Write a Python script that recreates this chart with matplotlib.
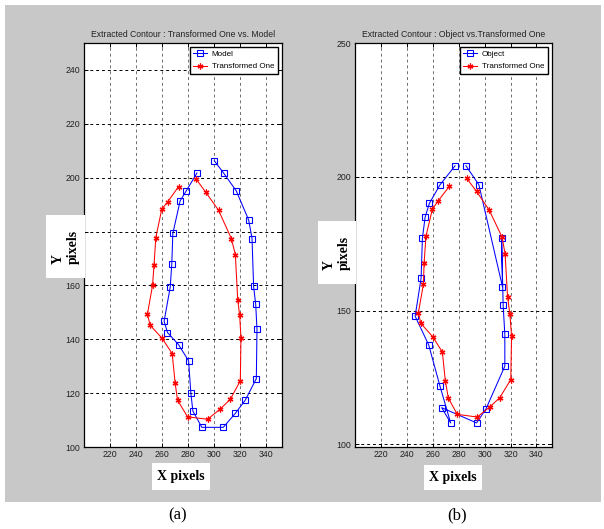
import matplotlib
matplotlib.use('Agg')
import matplotlib.pyplot as plt
from matplotlib.patches import Rectangle

# (a) model contour and the transformed one
model_x = [300, 307.2, 316.9, 326.4, 329, 330.2, 331.8, 332.8, 332.3, 323.8, 316.2, 306.9, 290.5,
           283.6, 282, 280.3, 272.6, 264.1, 261.5, 266.2, 267.4, 268.2, 273.8, 278.5, 286.7]
model_y = [206.3, 201.7, 195.1, 184.3, 177.4, 159.6, 153, 143.7, 125.4, 117.4, 112.5, 107.3, 107.3,
           113.3, 120.1, 132, 138, 142.5, 146.7, 159.4, 168, 179.3, 191.4, 195.1, 201.7]

trans_x = [286.2, 293.3, 303.3, 313.1, 316.2, 318, 319.5, 320.5, 320, 312.3, 304.6, 294.9, 279.5,
           271.8, 270, 267.7, 259.7, 250.8, 248.7, 252.6, 253.8, 255.1, 259.7, 264.4, 272.6]
trans_y = [199.4, 194.7, 187.9, 177.4, 171.4, 154.7, 148.9, 140.6, 124.6, 117.7, 114.1, 110.3, 111.2,
           117.4, 123.6, 134.7, 140.5, 145.2, 149.3, 160, 167.7, 177.7, 188.3, 191.1, 196.7]

# (b) object contour and the transformed one
obj_x = [285.6, 295.6, 313.8, 313.1, 314.3, 315.6, 315.6, 301, 293.8, 266.9,
         273.8, 265.6, 256.9, 246.4, 251, 252, 254.1, 257.4, 265.6, 277.2]
obj_y = [204.1, 197, 158.9, 177, 152.1, 141.1, 129.2, 113.2, 108, 113.7,
         108, 121.7, 137.1, 147.9, 162.1, 177, 184.9, 190.1, 197, 204.1]

trans2_x = [286.2, 293.8, 303.5, 313.5, 315.8, 317.7, 319.5, 320.8, 320.2, 311.8, 304.1, 294.3, 278.9,
            272, 269.7, 267.4, 260, 250.8, 248.9, 252.8, 253.3, 254.8, 259.7, 264.3, 272.8]
trans2_y = [199.4, 194.5, 187.6, 177.4, 171.2, 155.2, 148.7, 140.4, 124.2, 117.5, 114, 110.2, 111.2,
            117.3, 123.7, 134.5, 140.2, 145.2, 149.2, 159.9, 167.7, 177.9, 187.9, 191.1, 196.4]

x_ticks = [220, 240, 260, 280, 300, 320, 340]
y_ticks_a = [100, 120, 140, 160, 180, 200, 220, 240]
y_labels_a = ['100', '120', '140', '160', '', '200', '220', '240']  # 180 sits under the Y label box
y_ticks_b = [100, 150, 200, 250]
y_labels_b = ['100', '150', '200', '250']

W, H = 604, 529
plt.rcParams['font.family'] = ['Liberation Sans']

fig = plt.figure(figsize=(W / 100, H / 100), dpi=100)


def box(l, t, r, b):
    return [l / W, 1 - b / H, (r - l) / W, (b - t) / H]


# gray window background
bg = box(5, 5, 601, 502)
fig.patches.append(Rectangle((bg[0], bg[1]), bg[2], bg[3], transform=fig.transFigure,
                             facecolor='#c8c8c8', edgecolor='none', zorder=-5))


def panel(rect, title, ylim, yticks, ylabels, blue, red, blue_name):
    ax = fig.add_axes(box(*rect))
    ax.plot(blue[0], blue[1], color='#0000ff', lw=0.75, marker='s', ms=3.8,
            mfc='none', mew=0.8, label=blue_name)
    ax.plot(red[0], red[1], color='#ff0000', lw=0.75, marker=(6, 2, 0), ms=4.2,
            mew=0.9, label='Transformed One')
    ax.set_xlim(200, 352)
    ax.set_ylim(*ylim)
    ax.set_xticks(x_ticks)
    ax.set_yticks(yticks)
    ax.set_yticklabels(ylabels)
    ax.xaxis.grid(True, color='#707070', ls=(0, (3, 3)), lw=0.7)
    ax.yaxis.grid(True, color='k', ls=(0, (3, 3)), lw=0.7)
    ax.tick_params(direction='in', top=True, right=True, length=3, width=0.7,
                   labelsize=6.3, labelcolor='#222222', pad=2.5)
    for s in ax.spines.values():
        s.set_linewidth(0.9)
    ax.set_title(title, fontsize=6.2, color='#222222', pad=4.5)
    ax.legend(loc='upper right', fancybox=False, edgecolor='k', framealpha=1,
              fontsize=5.8, borderaxespad=0.5, handlelength=1.7, labelspacing=0.55,
              borderpad=0.45, handletextpad=0.6)
    return ax


panel((84, 43, 282, 447), 'Extracted Contour : Transformed One vs. Model', (100, 250),
      y_ticks_a, y_labels_a, (model_x, model_y), (trans_x, trans_y), 'Model')
panel((355, 43, 552, 447), 'Extracted Contour : Object vs.Transformed One', (99, 250),
      y_ticks_b, y_labels_b, (obj_x, obj_y), (trans2_x, trans2_y), 'Object')

serif = 'Liberation Serif'


def label_box(l, t, r, b, text, rot):
    bb = box(l, t, r, b)
    fig.patches.append(Rectangle((bb[0], bb[1]), bb[2], bb[3], transform=fig.transFigure,
                                 facecolor='white', edgecolor='none', zorder=5))
    fig.text(bb[0] + bb[2] / 2, bb[1] + bb[3] / 2, text, rotation=rot, ha='center', va='center',
             multialignment='left', family=serif, weight='bold', size=10, zorder=6)


label_box(46, 215, 85, 278, 'Y\npixels', 90)
label_box(318, 221, 356, 284, 'Y\npixels', 90)
label_box(152, 463, 210, 490, 'X pixels', 0)
label_box(424, 465, 482, 490, 'X pixels', 0)

fig.text(178 / W, 1 - 515 / H, '(a)', ha='center', va='center', family=serif, size=12)
fig.text(457 / W, 1 - 515 / H, '(b)', ha='center', va='center', family=serif, size=12)

fig.savefig('out.png', dpi=100)
